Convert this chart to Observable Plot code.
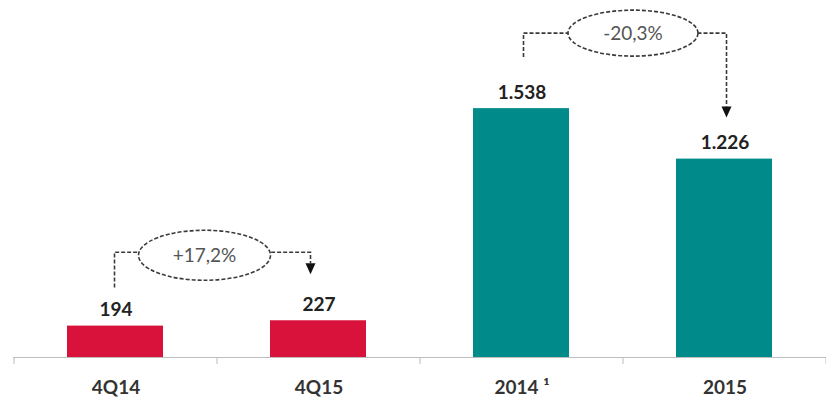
<!DOCTYPE html>
<html><head><meta charset="utf-8">
<script src="https://cdn.jsdelivr.net/npm/d3@7"></script>
<script src="https://cdn.jsdelivr.net/npm/@observablehq/plot@0.6"></script>
<style>body{margin:0;background:#fff}</style>
</head><body><div id="chart"></div>
<script>
const categories = ["4Q14", "4Q15", "2014", "2015"];
const values = [194, 227, 1538, 1226];
const periodTypes = ["Quarter", "Quarter", "Year", "Year"];
const tickLabels = ["4Q14", "4Q15", "2014 \u00B9", "2015"];
const changeFrom = ["4Q14", "2014"];
const changeTo = ["4Q15", "2015"];
const changeLabels = ["+17,2%", "-20,3%"];

const data = categories.map((c, i) => ({category: c, value: values[i], type: periodTypes[i]}));
const valueOf = Object.fromEntries(categories.map((c, i) => [c, values[i]]));
const fmt = d3.formatLocale({decimal: ",", thousands: ".", grouping: [3], currency: ["", ""]}).format(",d");

// pixel offsets of the annotation connectors relative to the bar tops (style only)
const annLayout = [
  {start: 38, level: 68, end: 46, dx1: -1, dx2: -8, cdx: -8, cdy: 3, rx: 66, ry: 25},
  {start: 51, level: 75, end: 41, dx1: 2, dx2: 2, cdx: 8, cdy: 0, rx: 65, ry: 23}
];

function categoryTicks(index, scales, channels, dimensions) {
  const {x, y} = scales;
  const bw = x(categories[1]) - x(categories[0]);
  const y0 = y(0);
  const g = d3.create("svg:g").attr("stroke", "#bdbdbd").attr("stroke-width", 1);
  const xs = categories.map(c => x(c)).concat([x(categories[categories.length - 1]) + bw]);
  for (const xv of xs) {
    g.append("line").attr("x1", xv).attr("x2", xv).attr("y1", y0).attr("y2", y0 + 7);
  }
  return g.node();
}

function changeAnnotations(index, scales, channels, dimensions) {
  const {x, y} = scales;
  const bw = x(categories[1]) - x(categories[0]);
  const g = d3.create("svg:g");
  changeFrom.forEach((from, i) => {
    const to = changeTo[i];
    const L = annLayout[i];
    const xa = x(from) + bw / 2 + L.dx1;
    const xb = x(to) + bw / 2 + L.dx2;
    const ya = y(valueOf[from]) - L.start;
    const yTop = Math.min(y(valueOf[from]), y(valueOf[to])) - L.level;
    const yTip = y(valueOf[to]) - L.end;
    const headH = 11, headW = 5;
    g.append("path")
      .attr("d", `M${xa},${ya}V${yTop}H${xb}V${yTip - headH}`)
      .attr("fill", "none")
      .attr("stroke", "#3a3a3a")
      .attr("stroke-width", 1.6)
      .attr("stroke-dasharray", "4,2");
    g.append("path")
      .attr("d", `M${xb - headW},${yTip - headH}L${xb + headW},${yTip - headH}L${xb},${yTip}Z`)
      .attr("fill", "#111");
    const cx = (xa + xb) / 2 + L.cdx;
    const cy = yTop + L.cdy;
    g.append("ellipse")
      .attr("cx", cx).attr("cy", cy).attr("rx", L.rx).attr("ry", L.ry)
      .attr("fill", "#fff")
      .attr("stroke", "#3a3a3a")
      .attr("stroke-width", 1.6)
      .attr("stroke-dasharray", "4,2");
    g.append("text")
      .attr("x", cx).attr("y", cy).attr("dy", "0.36em")
      .attr("text-anchor", "middle")
      .attr("font-size", 19)
      .attr("font-weight", "normal")
      .attr("fill", "#555")
      .text(changeLabels[i]);
  });
  return g.node();
}

const chart = Plot.plot({
  width: 826,
  height: 401,
  marginLeft: 13,
  marginRight: 0,
  marginTop: 1,
  marginBottom: 44,
  style: {fontFamily: "Lato, 'Open Sans', sans-serif", fontSize: "19px", fontWeight: "bold", color: "#333", background: "#fff"},
  x: {domain: categories, padding: 0, tickSize: 0, tickPadding: 23, label: null,
      tickFormat: d => tickLabels[categories.indexOf(d)]},
  y: {domain: [0, 2200], axis: null},
  color: {domain: ["Quarter", "Year"], range: ["#d8123a", "#008a8a"]},
  marks: [
    Plot.barY(data, {x: "category", y: "value", fill: "type", insetLeft: 53, insetRight: 54}),
    Plot.ruleY([0], {stroke: "#bdbdbd"}),
    categoryTicks,
    Plot.text(data, {x: "category", y: "value", text: d => fmt(d.value), dy: -16,
      fontWeight: "bold", fontSize: 19, fill: "#222"}),
    changeAnnotations
  ]
});
document.getElementById("chart").appendChild(chart);
</script>
</body></html>
